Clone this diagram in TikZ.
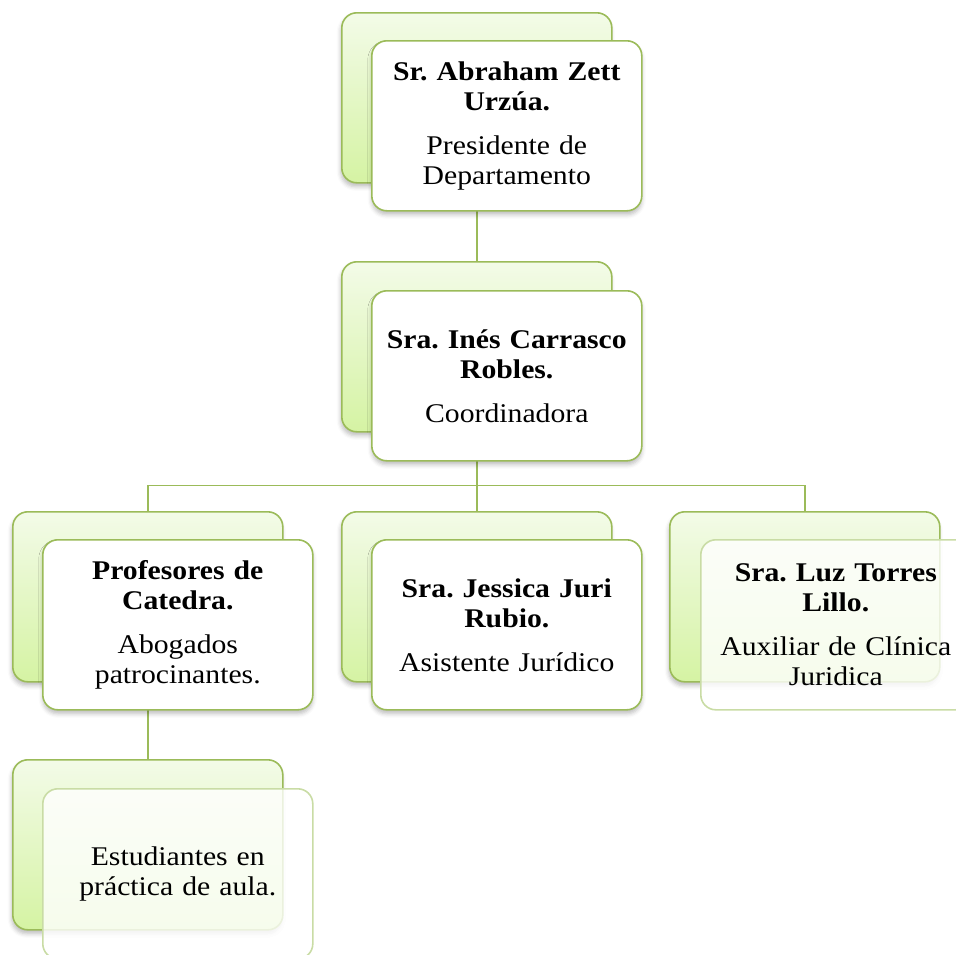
\documentclass[tikz,border=0pt]{standalone}
\usepackage{fontspec}
\setmainfont{Liberation Serif}[FakeStretch=1.1]
\usetikzlibrary{shadows.blur,backgrounds}
\definecolor{grn}{HTML}{9BBB59}
\definecolor{grnlight}{HTML}{C9DCA5}
\definecolor{bktop}{HTML}{F3FBE8}
\definecolor{bkbot}{HTML}{D5F3A3}
\tikzset{
  backbox/.style={draw=grn, line width=1.6pt, rounded corners=15pt,
    top color=bktop, bottom color=bkbot, minimum width=270pt, minimum height=170pt,
    anchor=north west, inner sep=0pt,
    blur shadow={shadow xshift=-1pt, shadow yshift=-4pt, shadow opacity=25, shadow blur radius=4pt}},
  boxbase/.style={line width=1.6pt, rounded corners=15pt,
    minimum width=270pt, minimum height=170pt, anchor=north west, inner sep=0pt,
    align=center, text width=262pt, font=\fontsize{27}{30}\selectfont},
  frontbox/.style={boxbase, draw=grn, fill=white,
    blur shadow={shadow xshift=0pt, shadow yshift=-4pt, shadow opacity=25, shadow blur radius=4pt}},
  fadebox/.style={boxbase, draw=grnlight, fill=white, fill opacity=0.8, text opacity=1},
  conn/.style={draw=grn, line width=1.5pt}
}
\begin{document}
\frenchspacing
\begin{tikzpicture}[x=1pt,y=-1pt]
\useasboundingbox (0,0) rectangle (956,954);
% level 1
\node[backbox] (b1) at (341,12) {};
\node[frontbox] (f1) at (371,40) {{\bfseries Sr. Abraham Zett\\ Urzúa.}\\[14pt] Presidente de\\ Departamento};
% level 2
\node[backbox] (b2) at (341,261) {};
\node[frontbox] (f2) at (371,290) {{\bfseries Sra. Inés Carrasco\\ Robles.}\\[14pt] Coordinadora};
% level 3
\node[backbox] (b3) at (12,511) {};
\node[frontbox] (f3) at (42,539) {{\bfseries Profesores de\\ Catedra.}\\[14pt] Abogados\\ patrocinantes.};
\node[backbox] (b4) at (341,511) {};
\node[frontbox] (f4) at (371,539) {{\bfseries Sra. Jessica Juri\\ Rubio.}\\[14pt] Asistente Jurídico};
\node[backbox] (b5) at (669,511) {};
\node[fadebox] (f5) at (700,539) {{\bfseries Sra. Luz Torres\\ Lillo.}\\[14pt] Auxiliar de Clínica\\ Juridica};
% level 4
\node[backbox] (b6) at (12,759) {};
\node[fadebox] (f6) at (42,788) {Estudiantes en\\ práctica de aula.};
\path (b2.south) ++(0,53) coordinate (bus);
\begin{pgfonlayer}{background}
\draw[conn] (b1.south) -- (b2.north);
\draw[conn] (b2.south) -- (bus);
\draw[conn] (bus) -| (b3.north);
\draw[conn] (bus) -- (b4.north);
\draw[conn] (bus) -| (b5.north);
\draw[conn] (b3.south) -- (b6.north);
\end{pgfonlayer}
\end{tikzpicture}
\end{document}
